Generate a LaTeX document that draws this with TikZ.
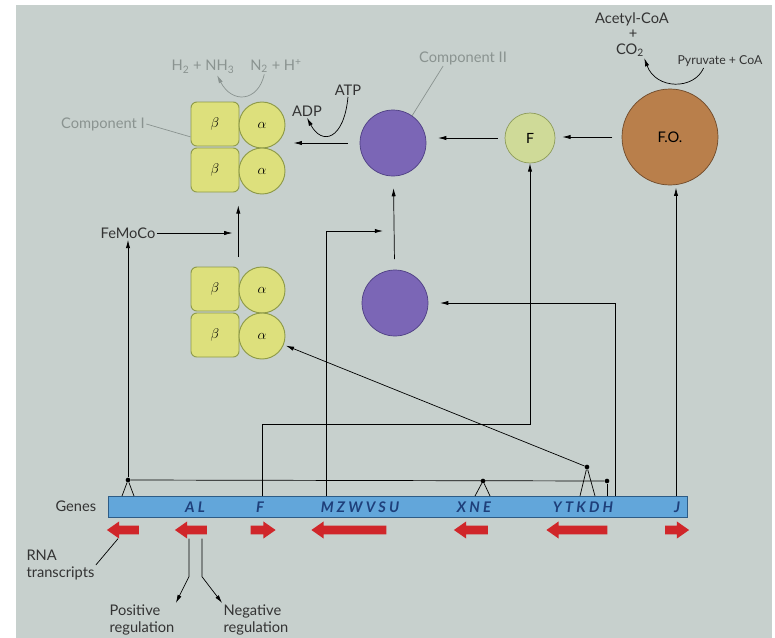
\documentclass[tikz,border=0pt]{standalone}
\usepackage{fontspec}
\setmainfont{Lato}
\newfontfamily\genefont{Lato}[LetterSpace=22]
\usepackage{tikz}
\usetikzlibrary{positioning,shapes.arrows,arrows.meta,calc}
\definecolor{paper}{HTML}{C7D0CD}
\definecolor{subyel}{HTML}{DDE07C}
\definecolor{subedge}{HTML}{8E9A48}
\definecolor{fesprot}{HTML}{7B66B6}
\definecolor{fesedge}{HTML}{4E3F83}
\definecolor{flavo}{HTML}{CFDA98}
\definecolor{flavoedge}{HTML}{8E9C5A}
\definecolor{fdox}{HTML}{B97F4B}
\definecolor{fdoxedge}{HTML}{6F4A2A}
\definecolor{genebar}{HTML}{62A6DA}
\definecolor{geneedge}{HTML}{2E5C86}
\definecolor{genetext}{HTML}{1E3F7A}
\definecolor{rnared}{HTML}{D0262A}
\definecolor{faded}{HTML}{8A9390}
\tikzset{dot/.style={inner sep=1.4pt, fill=black, circle},
  beta/.style={draw=subedge, fill=subyel, thick, rounded corners=5pt,
    minimum width=1.44cm, minimum height=1.32cm, inner sep=0pt, font=\large},
  alpha/.style={draw=subedge, fill=subyel, thick, circle, minimum size=1.38cm, inner sep=0pt, font=\large},
  comptwo/.style={draw=fesedge, fill=fesprot, circle, minimum size=1.98cm},
  lab/.style={font=\fontsize{12.5}{15}\selectfont, text=black!80, inner sep=1pt},
  pale/.style={lab, text=faded},
  gene/.style={font=\genefont\bfseries\itshape\fontsize{12.5}{14}\selectfont, text=genetext},
  rna/.style={single arrow, fill=rnared, inner xsep=0pt, inner ysep=3.4pt,
    single arrow head extend=3.6pt, single arrow tip angle=70},
  >={Latex[length=7pt,width=3.6pt]}}

\begin{document}
\begin{tikzpicture}[x=0.03cm, y=-0.03cm, line width=0.6pt]
    \useasboundingbox (0,0) rectangle (775,638);
    \fill[white] (0,0) rectangle (775,638);
    \fill[paper] (16,5) rectangle (772,638);

    % component I, before and after FeMoCo
    \foreach \g/\y in {u/124, l/289} {
      \node[beta] (b\g1) at (215,\y) {$\beta$};
      \node[beta] (b\g2) at (215,\y+46) {$\beta$};
      \node[alpha] (a\g1) at (262,\y+1) {$\alpha$};
      \node[alpha] (a\g2) at (262,\y+47) {$\alpha$};
    }
    \node[comptwo] (c2) at (393,143) {};
    \node[comptwo] (c2low) at (395,303) {};
    \node[draw=flavoedge, fill=flavo, circle, minimum size=1.5cm, font=\fontsize{12}{14}\selectfont] (fprot) at (530,138) {F};
    \node[draw=fdoxedge, fill=fdox, circle, minimum size=2.88cm, font=\fontsize{12.5}{14}\selectfont] (fo) at (670,137) {F.O.};

    \node[pale] (comp1) at (103,124) {Component I};
    \node[pale] (comp2l) at (463,58) {Component II};
    \node[pale] (h2) at (203,67) {H\textsubscript{2} + NH\textsubscript{3}};
    \node[pale] (n2) at (276,66) {N\textsubscript{2} + H\textsuperscript{+}};
    \node[lab] (atp) at (348,90) {ATP};
    \node[lab] (adp) at (307,111) {ADP};
    \node[lab] (femoco) at (128,233) {FeMoCo};
    \node[lab] (acoa) at (632,19) {Acetyl-CoA};
    \node[lab] (plus) at (633,34) {+};
    \node[lab] (co2) at (630,50) {CO\textsubscript{2}};
    \node[lab, font=\fontsize{10.5}{12}\selectfont] (pyr) at (720,61) {Pyruvate + CoA};

    % genes and their transcripts
    \node[draw=geneedge, fill=genebar, minimum width=17.37cm, minimum height=0.63cm, inner sep=0pt] (bar) at (397.5,506.5) {};
    \node[lab, left=0.3cm of bar] (genes) {Genes};
    \foreach \x/\g in {195/AL, 260/F, 360/MZWVSU, 474/XNE, 583/YTKDH, 677/J}
      \node[gene] (g\g) at (\x,507) {\g};
    \foreach \x/\len/\dir [count=\i] in {126/32/180, 194/32/180, 260/25/0, 352/75/180, 474/34/180, 580/61/180, 674/24/0}
      \node[rna, minimum height=\len*0.03cm, shape border rotate=\dir] (rna\i) at (\x,530) {};
    \node[lab, align=left, anchor=west] (rnalab) at (25,565) {RNA\\transcripts};
    \node[lab, align=left] (pos) at (142,620) {Positive\\regulation};
    \node[lab, align=left] (neg) at (256,620) {Negative\\regulation};

    \node[dot] (dA) at (128,480) {};
    \node[dot] (dX) at (483,481) {};
    \node[dot] (dK) at (587,467) {};
    \node[dot] (dH) at (607,481) {};
    \coordinate (tF) at (262,496);
    \coordinate (tM) at (326,496);
    \coordinate (tH) at (615,496);
    \coordinate (tJ) at (676,496);
    \coordinate (fBend) at (530,424);
    \coordinate (mEnd) at (383,231);

    % regulatory links
    \draw (dA) -- (dH);
    \draw (dA) -- +(-6,16) (dA) -- +(6,16);
    \draw (dX) -- +(-8,15) (dX) -- +(7,15);
    \draw (dK) -- +(-7,29) (dK) -- +(8,29);
    \draw (dH) -- (dH |- bar.north);
    \draw[->] (dA) -- (femoco);
    \draw[->, shorten >=6pt] (femoco) -- (femoco -| bl1.east);
    \draw[->, shorten <=8pt, shorten >=11pt] ([xshift=-1pt]bl1.north east) -- ([xshift=-1pt]bu2.south east);
    \draw[->, shorten >=2pt] (dK) -- (al2);
    \draw[->] (tM) |- (mEnd);
    \draw[->] (tF) |- (fBend) -- (fprot);
    \draw[->, shorten >=10pt] (tH) |- (c2low.east);
    \draw[->, shorten >=2pt] (tJ) -- (tJ |- fo.south);

    % electron transfer
    \draw[->, shorten <=9pt, shorten >=10pt] (c2low) -- (c2);
    \draw[->, shorten <=10pt, shorten >=7pt] (c2.west) -- (c2.west -| au1.east);
    \draw[->, shorten <=6pt, shorten >=10pt] (fprot.west) -- (fprot.west -| c2.east);
    \draw[->, shorten <=8pt, shorten >=6pt] (fo.west) -- (fo.west -| fprot.east);
    \draw[->] (atp.south) .. controls (344,140) and (322,146) .. (adp.south);
    \draw[->, faded] ([xshift=-10pt]n2.south) .. controls (258,102) and (232,104) .. ([xshift=12pt]h2.south);
    \draw[->] ([xshift=-14pt]pyr.south) .. controls (694,90) and (656,90) .. ([xshift=-1pt]co2.south east);
    \draw[faded] (comp1.east) -- ([yshift=-11pt]bu1.west);
    \draw[faded] ([xshift=-17pt]comp2l.south) -- (c2.55);

    \draw (rnalab.east) -- ($(rna1.south)+(-8,4)$);
    \draw[->] ($(rna2.south)+(-5,4)$) -- ++(0,38) -- (pos.north east);
    \draw[->] ($(rna2.south)+(8,4)$) -- ++(0,38) -- (neg.north west);
\end{tikzpicture}
\end{document}
